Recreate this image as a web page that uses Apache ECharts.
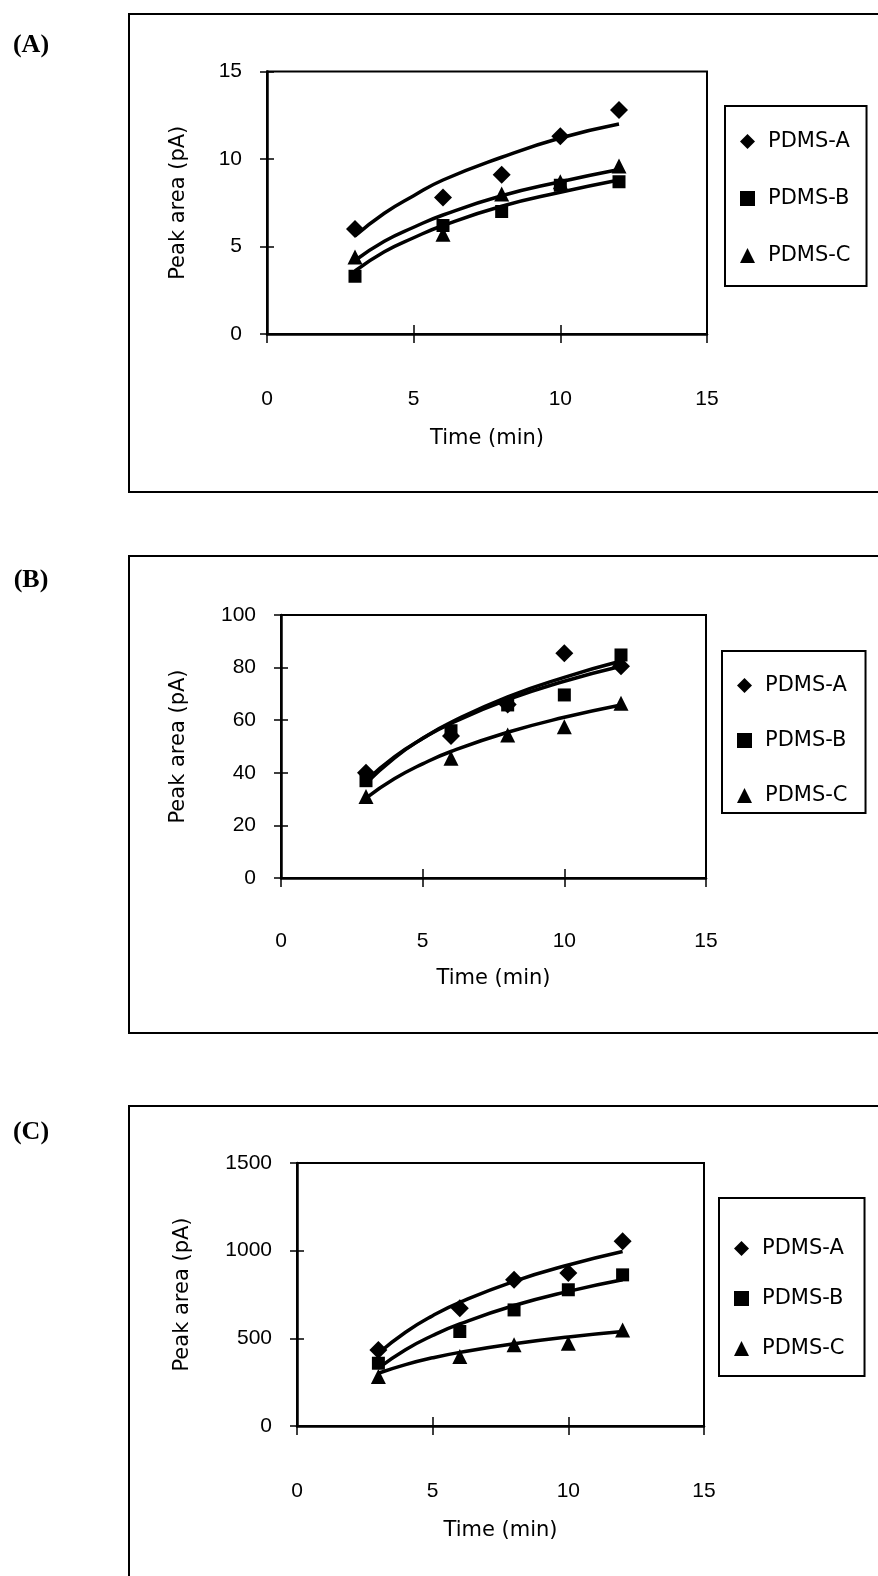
<!DOCTYPE html>
<html>
<head>
<meta charset="utf-8">
<title>Peak area vs time</title>
<script src="https://cdn.jsdelivr.net/npm/echarts@6/dist/echarts.min.js"></script>
<style>
  html, body { margin: 0; padding: 0; background: #fff; }
  #chart { width: 878px; height: 1576px; }
</style>
</head>
<body>
<div id="chart"></div>
<script>
// sampling times (min)
var times = [3, 6, 8, 10, 12];
var fitTimes = [3, 4, 5, 6, 8, 10, 12];
var seriesNames = ['PDMS-A', 'PDMS-B', 'PDMS-C'];
var panelLabels = ['(A)', '(B)', '(C)'];

// panel A - measured peak areas (pA)
var aPdmsA = [6.0, 7.8, 9.1, 11.3, 12.8];
var aPdmsB = [3.3, 6.2, 7.0, 8.5, 8.7];
var aPdmsC = [4.4, 5.7, 8.0, 8.7, 9.6];
// panel A - trend lines
var aFitA = [5.6, 6.9, 7.9, 8.8, 10.1, 11.2, 12.0];
var aFitB = [3.6, 4.7, 5.5, 6.2, 7.3, 8.1, 8.8];
var aFitC = [4.2, 5.3, 6.1, 6.8, 7.9, 8.7, 9.4];

// panel B
var bPdmsA = [40, 54, 66, 85.5, 80.5];
var bPdmsB = [37, 56, 65.8, 69.6, 84.8];
var bPdmsC = [31, 45.5, 54.4, 57.5, 66.4];
var bFitA = [37, 46, 53, 58.8, 67.8, 74.8, 80.5];
var bFitB = [36, 45.6, 53.1, 59.2, 68.9, 76.3, 82.5];
var bFitC = [30.4, 37.7, 43.4, 48.1, 55.4, 61.1, 65.8];

// panel C
var cPdmsA = [434, 672, 834, 872, 1053];
var cPdmsB = [358, 539, 662, 777, 862];
var cPdmsC = [282, 396, 463, 472, 548];
var cFitA = [415, 535, 629, 705, 825, 918, 995];
var cFitB = [330, 435, 516, 582, 687, 768, 834];
var cFitC = [301, 350, 389, 420, 469, 508, 539];

// axis ticks
var xTicks = [0, 15, 5];          // min, max, interval
var aYTicks = [0, 15, 5];
var bYTicks = [0, 100, 20];
var cYTicks = [0, 1500, 500];

var FONT = 'DejaVu Sans';
var NUMFONT = 'Liberation Sans';

var panels = [
  { vals: [aPdmsA, aPdmsB, aPdmsC], fits: [aFitA, aFitB, aFitC], y: aYTicks,
    grid: { left: 267, top: 71.5, width: 440, height: 262.5 },
    yGap: 78, xGap: 94, xMargin: 55,
    legend: { left: 725, top: 106, padding: [25, 16, 20, 15], itemGap: 36 },
    box: { y: 14, h: 478 }, label: 45 },
  { vals: [bPdmsA, bPdmsB, bPdmsC], fits: [bFitA, bFitB, bFitC], y: bYTicks,
    grid: { left: 281, top: 615, width: 425, height: 263 },
    yGap: 92, xGap: 90, xMargin: 53,
    legend: { left: 722, top: 651, padding: [24, 18, 7, 15], itemGap: 34 },
    box: { y: 556, h: 477 }, label: 580 },
  { vals: [cPdmsA, cPdmsB, cPdmsC], fits: [cFitA, cFitB, cFitC], y: cYTicks,
    grid: { left: 297, top: 1163, width: 407, height: 263 },
    yGap: 104, xGap: 94, xMargin: 55,
    legend: { left: 719, top: 1198, padding: [40, 20, 17, 15], itemGap: 29 },
    box: { y: 1106, h: 520 }, label: 1132 }
];

var symbols = ['diamond', 'rect', 'triangle'];
var symbolSizes = [18, 13, 15];

var grids = [], xAxes = [], yAxes = [], legends = [], series = [], graphics = [];

panels.forEach(function (p, i) {
  grids.push({
    left: p.grid.left, top: p.grid.top, width: p.grid.width, height: p.grid.height,
    show: true, borderColor: '#000', borderWidth: 2, backgroundColor: 'transparent',
    containLabel: false, outerBoundsMode: 'none'
  });
  // main x axis (ticks outside) + twin for the inner half of the ticks
  xAxes.push({
    gridIndex: i, type: 'value', min: xTicks[0], max: xTicks[1], interval: xTicks[2],
    position: 'bottom',
    axisLine: { show: true, onZero: false, lineStyle: { color: '#000', width: 2.5 } },
    axisTick: { show: true, inside: false, length: 9, lineStyle: { color: '#000', width: 1.5 } },
    axisLabel: { margin: p.xMargin, color: '#000', fontSize: 21, fontFamily: NUMFONT },
    splitLine: { show: false },
    name: 'Time (min)', nameLocation: 'middle', nameGap: p.xGap, nameMoveOverlap: false,
    nameTextStyle: { color: '#000', fontSize: 21, fontFamily: FONT }
  });
  xAxes.push({
    gridIndex: i, type: 'value', min: xTicks[0], max: xTicks[1], interval: xTicks[2],
    position: 'bottom', axisLine: { show: false },
    axisTick: { show: true, inside: true, length: 9, lineStyle: { color: '#000', width: 1.5 } },
    axisLabel: { show: false }, splitLine: { show: false }
  });
  yAxes.push({
    gridIndex: i, type: 'value', min: p.y[0], max: p.y[1], interval: p.y[2],
    position: 'left',
    axisLine: { show: true, onZero: false, lineStyle: { color: '#000', width: 2.5 } },
    axisTick: { show: true, inside: false, length: 7, lineStyle: { color: '#000', width: 1.5 } },
    axisLabel: { margin: 25, color: '#000', fontSize: 21, fontFamily: NUMFONT,
                 formatter: function (v) { return String(v); } },
    splitLine: { show: false },
    name: 'Peak area (pA)', nameLocation: 'middle', nameGap: p.yGap, nameMoveOverlap: false,
    nameTextStyle: { color: '#000', fontSize: 21, fontFamily: FONT }
  });
  yAxes.push({
    gridIndex: i, type: 'value', min: p.y[0], max: p.y[1], interval: p.y[2],
    position: 'left', axisLine: { show: false },
    axisTick: { show: true, inside: true, length: 7, lineStyle: { color: '#000', width: 1.5 } },
    axisLabel: { show: false }, splitLine: { show: false }
  });

  legends.push({
    data: seriesNames, orient: 'vertical', left: p.legend.left, top: p.legend.top,
    padding: p.legend.padding, itemGap: p.legend.itemGap,
    itemWidth: 15, itemHeight: 15, selectedMode: false,
    borderColor: '#000', borderWidth: 2, backgroundColor: '#fff',
    textStyle: { color: '#000', fontSize: 21, fontFamily: FONT, padding: [0, 0, 0, 8] }
  });

  seriesNames.forEach(function (name, k) {
    series.push({
      type: 'scatter', name: name, xAxisIndex: 2 * i, yAxisIndex: 2 * i,
      symbol: symbols[k], symbolSize: symbolSizes[k],
      itemStyle: { color: '#000', opacity: 1 },
      data: times.map(function (t, j) { return [t, p.vals[k][j]]; }),
      z: 3
    });
    series.push({
      type: 'line', name: name + ' trend', xAxisIndex: 2 * i, yAxisIndex: 2 * i,
      smooth: true, symbol: 'none', silent: true,
      lineStyle: { color: '#000', width: 3.5 },
      data: fitTimes.map(function (t, j) { return [t, p.fits[k][j]]; }),
      z: 4
    });
  });

  // outer frame of the panel
  graphics.push({
    type: 'rect', shape: { x: 129, y: p.box.y, width: 800, height: p.box.h },
    style: { fill: 'none', stroke: '#000', lineWidth: 2 }, z: 0
  });
  graphics.push({
    type: 'text', x: 31, y: p.label,
    style: { text: panelLabels[i], fill: '#000', font: 'bold 26px "Liberation Serif"',
             textAlign: 'center', textVerticalAlign: 'middle' }
  });
});

var myChart = echarts.init(document.getElementById('chart'), null, { renderer: 'canvas' });
var option = {
  backgroundColor: '#fff',
  animation: false,
  graphic: graphics,
  grid: grids,
  xAxis: xAxes,
  yAxis: yAxes,
  legend: legends,
  series: series
};
myChart.setOption(option);
</script>
</body>
</html>
